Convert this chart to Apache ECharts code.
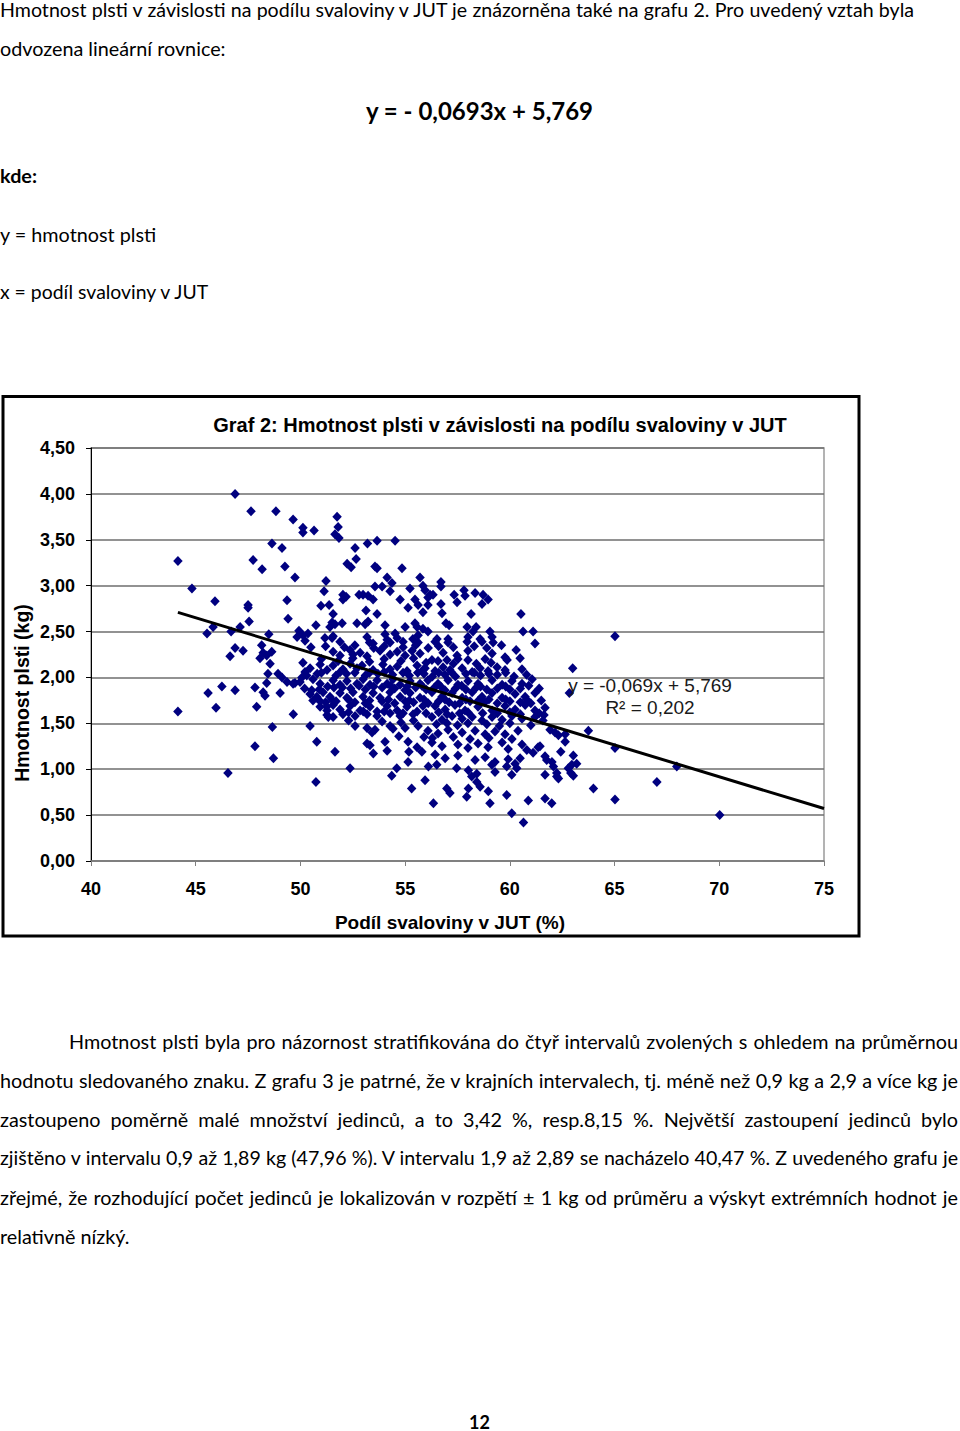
<!DOCTYPE html>
<html><head><meta charset="utf-8">
<script src="https://cdn.jsdelivr.net/npm/echarts@6/dist/echarts.min.js"></script>
<style>
html,body{margin:0;padding:0;background:#fff;}
body{width:960px;height:1431px;position:relative;overflow:hidden;font-family:'Lato','Liberation Sans',sans-serif;color:#000;}
.t{position:absolute;left:0;white-space:nowrap;font-size:19.8px;line-height:24px;height:24px;}
.j{text-align:justify;text-align-last:justify;white-space:normal;}
.b{font-weight:bold;}
#chart{position:absolute;left:0;top:395px;width:862px;height:545px;}
</style></head><body>
<div class="t j" style="top:-2px;width:914px">Hmotnost plsti v závislosti na podílu svaloviny v JUT je znázorněna také na grafu 2. Pro uvedený vztah byla</div>
<div class="t" style="top:36px">odvozena lineární rovnice:</div>
<div class="t b" style="top:97px;width:959px;text-align:center;font-size:24px;line-height:28px;height:28px">y = - 0,0693x + 5,769</div>
<div class="t b" style="top:163px">kde:</div>
<div class="t" style="top:222px">y = hmotnost plsti</div>
<div class="t" style="top:280px;font-size:19.4px">x = podíl svaloviny v JUT</div>
<div id="chart"></div>
<div class="t j" style="top:1029px;left:69px;width:889px">Hmotnost plsti byla pro názornost stratifikována do čtyř intervalů zvolených s ohledem na průměrnou</div>
<div class="t j" style="top:1068px;width:958px">hodnotu sledovaného znaku. Z grafu 3 je patrné, že v krajních intervalech, tj. méně než 0,9 kg a 2,9 a více kg je</div>
<div class="t j" style="top:1107px;width:958px">zastoupeno poměrně malé množství jedinců, a to 3,42 %, resp.8,15 %. Největší zastoupení jedinců bylo</div>
<div class="t j" style="top:1146px;width:958px">zjištěno v intervalu 0,9 až 1,89 kg (47,96 %). V intervalu 1,9 až 2,89 se nacházelo 40,47 %. Z uvedeného grafu je</div>
<div class="t j" style="top:1185px;width:958px">zřejmé, že rozhodující počet jedinců je lokalizován v rozpětí ± 1 kg od průměru a výskyt extrémních hodnot je</div>
<div class="t" style="top:1224px">relativně nízký.</div>
<div class="t b" style="top:1414px;width:959px;text-align:center;font-size:18px;line-height:17px;height:17px">12</div>
<script>
// x = podíl svaloviny v JUT (%), y = hmotnost plsti (kg)
const pointsUpperLeft = [[44.15,3.27],[44.15,1.63],[44.82,2.97],[45.92,2.83],[45.54,2.48],[45.83,2.55],[45.59,1.83],[45.97,1.67],[46.25,1.90],[46.54,0.96],[46.88,4.00],[46.69,2.50],[46.88,1.86],[47.12,2.55],[46.88,2.32],[47.26,2.29],[46.64,2.23],[47.5,2.79],[47.5,2.76],[47.55,2.61],[47.64,3.81],[47.74,3.28],[48.17,3.18],[48.64,3.46],[49.12,3.41],[48.83,3.81],[49.65,3.72],[50.12,3.63],[50.12,3.58],[50.65,3.60],[51.75,3.75],[51.8,3.64],[51.65,3.56],[51.84,3.52],[52.61,3.41],[52.66,3.29],[49.26,3.21],[49.74,3.09],[52.23,3.24],[52.42,3.20],[51.22,3.05],[49.36,2.84],[51.13,2.94],[52.03,2.90],[52.03,2.85],[52.18,2.88],[52.8,2.90],[50.98,2.78],[51.37,2.79],[51.56,2.69],[49.41,2.64],[51.51,2.60],[51.41,2.55],[51.65,2.58],[51.99,2.59],[50.74,2.57],[52.7,2.59],[48.49,2.47],[49.93,2.51],[50.12,2.46],[50.36,2.48],[51.17,2.43],[51.51,2.43]];
const pointsUpperMid = [[53.2,3.46],[53.66,3.49],[54.52,3.49],[53.56,3.21],[53.66,3.19],[54.85,3.19],[54.14,3.09],[54.37,3.03],[55.71,3.09],[56.71,3.04],[56.71,2.99],[53.56,2.99],[53.9,2.99],[54.28,2.94],[55.23,2.97],[55.85,3.00],[55.95,2.95],[52.99,2.90],[53.23,2.89],[53.47,2.85],[56.19,2.90],[56.33,2.90],[56.09,2.87],[57.34,2.90],[57.48,2.82],[57.81,2.95],[57.86,2.89],[58.34,2.92],[58.72,2.90],[58.96,2.85],[58.67,2.80],[54.76,2.85],[55.47,2.85],[55.62,2.79],[56.09,2.79],[56.71,2.80],[56.76,2.70],[55.14,2.76],[55.85,2.71],[53.13,2.73],[53.66,2.69],[58.15,2.69],[60.53,2.69],[56.95,2.59],[57.1,2.57],[53.09,2.58],[53.23,2.61],[54.04,2.57],[55.0,2.55],[55.47,2.59],[55.57,2.55],[55.85,2.53],[56.09,2.50],[57.96,2.55],[58.39,2.55],[58.24,2.50],[59.05,2.50],[60.63,2.50],[61.11,2.50],[53.18,2.44],[54.04,2.47],[54.52,2.48],[55.62,2.46],[56.52,2.42],[57.05,2.42],[58.0,2.44],[58.58,2.42],[59.15,2.44],[65.02,2.45],[61.2,2.37]];
const pointsCoreUpper = [[49.84,2.44],[50.22,2.40],[51.56,2.45],[51.89,2.39],[53.3,2.38],[53.47,2.37],[54.14,2.41],[54.28,2.38],[54.62,2.43],[54.9,2.39],[55.37,2.42],[55.62,2.38],[56.43,2.39],[57.05,2.38],[57.96,2.39],[58.67,2.39],[59.2,2.38],
[51.56,2.28],[51.89,2.24],[52.37,2.30],[52.51,2.25],[52.85,2.27],[53.18,2.23],[53.8,2.29],[54.28,2.25],[54.62,2.28],[55.0,2.24],[55.33,2.29],[55.71,2.26],[56.81,2.27],[57.48,2.24],[58.0,2.29],[59.15,2.26],[59.77,2.22],[48.15,2.35],[48.22,2.27],[48.39,2.24],[48.63,2.28],[48.07,2.21],
[51.0,2.20],[51.8,2.18],[52.5,2.21],[53.3,2.17],[54.0,2.20],[54.8,2.18],[55.4,2.21],[56.0,2.16],[57.3,2.15],[58.4,2.15],[59.1,2.16],
[50.12,2.16],[50.46,2.10],[50.94,2.14],[51.27,2.08],[51.56,2.13],[52.03,2.09],[52.37,2.15],[52.7,2.10],[52.94,2.13],[53.47,2.08],[53.94,2.14],[54.28,2.09],[54.62,2.12],[55.09,2.07],[55.57,2.13],[55.85,2.08],[56.28,2.19],[56.57,2.18],[57.0,2.19],[57.52,2.20],[58.0,2.19],[58.82,2.20],[59.87,2.19],[60.49,2.21],[55.95,2.10],[56.43,2.07],[56.81,2.11],[57.14,2.08],[57.72,2.10],[58.2,2.06],[58.58,2.10],[58.96,2.07],[59.39,2.11],[59.77,2.08],[60.58,2.09],
[48.55,2.15],[48.45,2.04],[48.39,1.94],[48.93,2.04],[49.12,2.00],[49.36,1.95],[49.65,1.93],[49.74,1.94],[50.07,2.00],[50.22,2.06],
[50.5,2.33],[51.2,2.34],[52.1,2.33],[52.6,2.35],[53.5,2.32],[54.0,2.34],[54.9,2.33],[55.5,2.35],[56.1,2.32],[56.6,2.34],[57.3,2.33],[58.3,2.34],[58.9,2.32],[59.6,2.35],[60.3,2.30]];
const pointsCoreMid = [[49.98,1.95],[50.6,1.98],[50.94,1.93],[51.56,1.97],[51.89,1.92],[52.22,1.96],[52.7,1.93],[52.99,1.98],[53.32,1.92],[53.66,1.97],[54.14,1.93],[54.42,1.98],[54.76,1.92],[55.23,1.96],[55.71,1.93],[56.09,1.97],[56.57,1.93],[57.05,1.97],[57.52,1.92],[58.0,1.96],[58.48,1.93],[59.15,1.97],[59.63,1.92],[60.1,1.96],[60.58,1.93],[61.06,1.98],
[51.0,2.05],[51.9,2.06],[52.6,2.05],[53.3,2.05],[54.0,2.06],[54.9,2.05],[55.6,2.05],[56.6,2.05],[57.2,2.06],[58.3,2.05],[59.0,2.04],[59.8,2.05],
[50.3,2.02],[50.8,2.04],[51.7,2.02],[52.2,2.04],[53.1,2.02],[53.7,2.04],[54.4,2.03],[55.2,2.02],[55.9,2.04],[56.3,2.01],[56.9,2.03],[57.4,2.01],[57.9,2.04],[58.6,2.02],[59.4,2.03],[60.2,2.01],[60.8,2.03],
[51.3,1.90],[52.0,1.89],[52.8,1.91],[53.5,1.90],[54.3,1.91],[55.1,1.90],[55.8,1.91],[56.7,1.90],[57.7,1.91],[58.6,1.90],[59.8,1.90],[60.9,1.91],
[50.2,1.88],[50.9,1.87],[51.6,1.89],[52.4,1.88],[53.1,1.87],[53.9,1.89],[54.5,1.88],[55.0,1.86],[55.5,1.89],[56.0,1.87],[56.4,1.89],[56.9,1.86],[57.4,1.88],[57.9,1.87],[58.4,1.89],[58.9,1.87],[59.4,1.88],[60.0,1.87],[60.5,1.88],[61.4,1.88],
[50.46,1.82],[50.79,1.78],[51.08,1.84],[51.41,1.79],[51.89,1.83],[52.22,1.78],[52.51,1.84],[52.99,1.79],[53.47,1.83],[53.8,1.78],[54.28,1.84],[54.76,1.79],[55.23,1.83],[55.71,1.78],[56.28,1.84],[56.76,1.79],[57.24,1.83],[57.72,1.78],[58.2,1.84],[58.67,1.79],[59.15,1.83],[59.63,1.78],[60.25,1.82],[60.73,1.79],[61.2,1.83],
[50.6,1.75],[51.5,1.76],[52.3,1.76],[53.3,1.75],[54.2,1.76],[55.2,1.75],[55.9,1.76],[56.9,1.76],[57.9,1.76],[58.5,1.75],[59.0,1.76],[59.8,1.76],[60.8,1.76],
[51.2,1.73],[51.7,1.74],[52.6,1.73],[53.1,1.72],[53.9,1.74],[54.5,1.72],[55.0,1.74],[55.4,1.73],[56.1,1.72],[56.6,1.74],[57.1,1.73],[57.6,1.72],[58.1,1.74],[58.8,1.73],[59.4,1.72],[60.0,1.74],[60.5,1.73],[61.0,1.72],[61.5,1.75],
[50.94,1.68],[51.27,1.64],[51.56,1.70],[51.89,1.65],[52.37,1.69],[52.85,1.64],[53.32,1.68],[53.66,1.63],[54.14,1.69],[54.62,1.64],[55.09,1.68],[55.57,1.63],[55.85,1.69],[56.43,1.69],[56.91,1.65],[57.38,1.70],[57.86,1.64],[58.48,1.68],[59.15,1.64],[59.77,1.69],[60.25,1.65],[60.73,1.70],[61.2,1.64],[61.68,1.67],
[56.0,1.61],[56.6,1.62],[57.0,1.60],[57.6,1.61],[58.0,1.62],[58.7,1.61],[59.4,1.61],[60.0,1.62],[60.5,1.60],[61.4,1.61],[52.3,1.62],[53.0,1.63],[54.0,1.63],[54.9,1.61],
[51.27,1.59],[51.56,1.57],[52.03,1.60],[52.61,1.58],[53.18,1.60],[53.66,1.58],[54.28,1.61],[54.76,1.58],[55.38,1.60],
[56.28,1.57],[56.76,1.54],[57.24,1.58],[57.72,1.55],[58.2,1.57],[58.67,1.53],[59.15,1.57],[59.63,1.54],[60.1,1.58],[60.58,1.55],[61.2,1.57],[61.58,1.53]];
const pointsCoreLower = [[56.5,1.49],[57.0,1.50],[57.5,1.48],[58.0,1.50],[58.9,1.49],[59.5,1.47],[60.0,1.50],[61.0,1.48],[53.9,1.52],[54.8,1.51],[55.4,1.53],[52.3,1.53],
[56.09,1.42],[56.57,1.39],[57.05,1.43],[57.72,1.40],[58.34,1.42],[58.82,1.38],[59.29,1.41],[59.77,1.38],[60.39,1.42],[52.61,1.47],[53.18,1.45],[53.42,1.40],[53.56,1.43],[54.28,1.47],[54.42,1.44],[55.0,1.45],[55.62,1.47],[50.46,1.47],
[56.3,1.34],[57.3,1.35],[58.1,1.33],[59.0,1.34],[60.1,1.33],[54.7,1.36],[55.9,1.35],
[56.28,1.29],[56.76,1.25],[57.52,1.27],[58.0,1.23],[58.48,1.28],[58.96,1.24],[59.63,1.29],[59.92,1.22],[60.58,1.27],[61.35,1.24],[53.18,1.28],[53.32,1.26],[54.04,1.30],[54.14,1.20],[55.14,1.30],[55.18,1.19],[55.57,1.24],[55.8,1.19],[50.78,1.30],[51.65,1.19],
[56.43,1.16],[56.91,1.12],[57.52,1.15],[58.34,1.10],[58.82,1.13],[59.29,1.08],[59.92,1.11],[60.25,1.06],[61.68,1.14],[62.01,1.08],[53.48,1.17],[55.14,1.08],[52.37,1.01],[54.6,1.01]];
const pointsLow = [[54.36,0.93],[55.95,0.88],[55.31,0.79],[56.35,0.63],[56.99,0.79],[57.14,0.74],[58.02,0.79],[57.94,0.70],[58.42,0.86],[58.58,0.81],[58.97,0.76],[59.05,0.63],[59.85,0.72],[60.09,0.52],[60.65,0.42],[60.88,0.66],[61.68,0.68],[62.0,0.63],[61.44,1.25],[61.76,1.10],[62.08,1.03],[62.24,0.92],[61.68,0.94],[56.51,1.05],[56.11,1.03],[57.46,1.01],[58.02,0.99],[58.18,0.92],[58.42,0.95],[59.14,1.05],[59.29,0.97],[59.85,1.03],[60.09,0.94],[60.33,1.01],[60.49,1.12],[60.81,1.21],[61.11,1.18]];
const pointsRight = [[63.0,2.10],[62.84,1.83],[61.63,1.59],[63.75,1.42],[65.02,1.23],[67.97,1.03],[67.02,0.86],[63.99,0.79],[65.02,0.67],[70.02,0.50],[61.92,1.43],[62.16,1.40],[62.32,1.37],[62.64,1.38],[62.64,1.30],[62.43,1.19],[63.03,1.15],[63.19,1.06],[62.96,1.05],[62.79,1.01],[62.91,0.96],[63.03,0.93],[62.24,0.96],[62.32,0.90]];
const pointsLeftLower = [[47.83,1.89],[48.22,1.84],[48.31,1.80],[49.03,1.83],[47.91,1.68],[49.66,1.60],[48.66,1.46],[47.83,1.25],[48.71,1.12],[50.74,0.86],[50.54,1.86],[50.78,1.79],[50.94,1.74],[51.25,1.68],[51.33,1.57]];

const trendSlope = -0.0693;
const trendIntercept = 5.769;
const trendRange = [44.15, 75];
const xTicks = [40,45,50,55,60,65,70,75];
const yTicks = [0,0.5,1,1.5,2,2.5,3,3.5,4,4.5];
const trendLabel = ['y = -0,069x + 5,769', 'R² = 0,202'];

const allPoints = [].concat(pointsUpperLeft, pointsUpperMid, pointsCoreUpper, pointsCoreMid, pointsCoreLower, pointsLow, pointsRight, pointsLeftLower);
const trendLine = trendRange.map(x => [x, trendIntercept + trendSlope * x]);

const chart = echarts.init(document.getElementById('chart'), null, {renderer: 'svg'});
const AF = '"Liberation Sans", Arial, sans-serif';
chart.setOption({
  animation: false,
  grid: {left: 91, top: 53, width: 733, height: 413, show: true, borderColor: '#9a9a9a', borderWidth: 1.5},
  xAxis: {
    type: 'value', min: xTicks[0], max: xTicks[xTicks.length-1], interval: 5,
    axisLine: {show: true, onZero: false, lineStyle: {color: '#808080', width: 1.5}},
    axisTick: {show: true, length: 5, lineStyle: {color: '#808080'}},
    axisLabel: {margin: 19, fontWeight: 'bold', fontSize: 18, fontFamily: AF, color: '#000'},
    splitLine: {show: false}
  },
  yAxis: {
    type: 'value', min: yTicks[0], max: yTicks[yTicks.length-1], interval: 0.5,
    axisLine: {show: true, lineStyle: {color: '#000', width: 1}},
    axisTick: {show: true, length: 5, lineStyle: {color: '#000'}},
    axisLabel: {margin: 16, fontWeight: 'bold', fontSize: 18, fontFamily: AF, color: '#000',
      formatter: v => v.toFixed(2).replace('.', ',')},
    splitLine: {show: true, lineStyle: {color: '#6e6e6e', width: 1.5}}
  },
  series: [
    {type: 'scatter', data: allPoints, symbol: 'diamond', symbolSize: [9.5, 10], itemStyle: {color: '#000080', opacity: 1}, z: 2},
    {type: 'line', data: trendLine, symbol: 'none', lineStyle: {color: '#000', width: 3}, z: 3, silent: true}
  ],
  graphic: [
    {type: 'rect', shape: {x: 3, y: 1.5, width: 856, height: 539.5}, style: {fill: 'none', stroke: '#000', lineWidth: 3}, z: 10},
    {type: 'text', x: 500, y: 30, style: {text: 'Graf 2: Hmotnost plsti v závislosti na podílu svaloviny v JUT', font: 'bold 20px ' + AF, fill: '#000', align: 'center', verticalAlign: 'middle'}},
    {type: 'text', x: 450, y: 527, style: {text: 'Podíl svaloviny v JUT (%)', font: 'bold 19px ' + AF, fill: '#000', align: 'center', verticalAlign: 'middle'}},
    {type: 'text', x: 22, y: 298, rotation: Math.PI / 2, style: {text: 'Hmotnost plsti (kg)', font: 'bold 19.5px ' + AF, fill: '#000', align: 'center', verticalAlign: 'middle'}},
    {type: 'text', x: 650, y: 290, style: {text: trendLabel[0], font: '19px ' + AF, fill: '#1a1a1a', align: 'center', verticalAlign: 'middle'}, z: 5},
    {type: 'text', x: 650, y: 312, style: {text: trendLabel[1], font: '19px ' + AF, fill: '#1a1a1a', align: 'center', verticalAlign: 'middle'}, z: 5}
  ]
});

function fitJustified() {
  document.querySelectorAll('.j').forEach(el => {
    let fs = 19.8;
    el.style.fontSize = fs + 'px';
    while (el.scrollHeight > 30 && fs > 14) { fs -= 0.2; el.style.fontSize = fs + 'px'; }
  });
}
fitJustified();
if (document.fonts && document.fonts.ready) document.fonts.ready.then(fitJustified);
</script>
</body></html>
